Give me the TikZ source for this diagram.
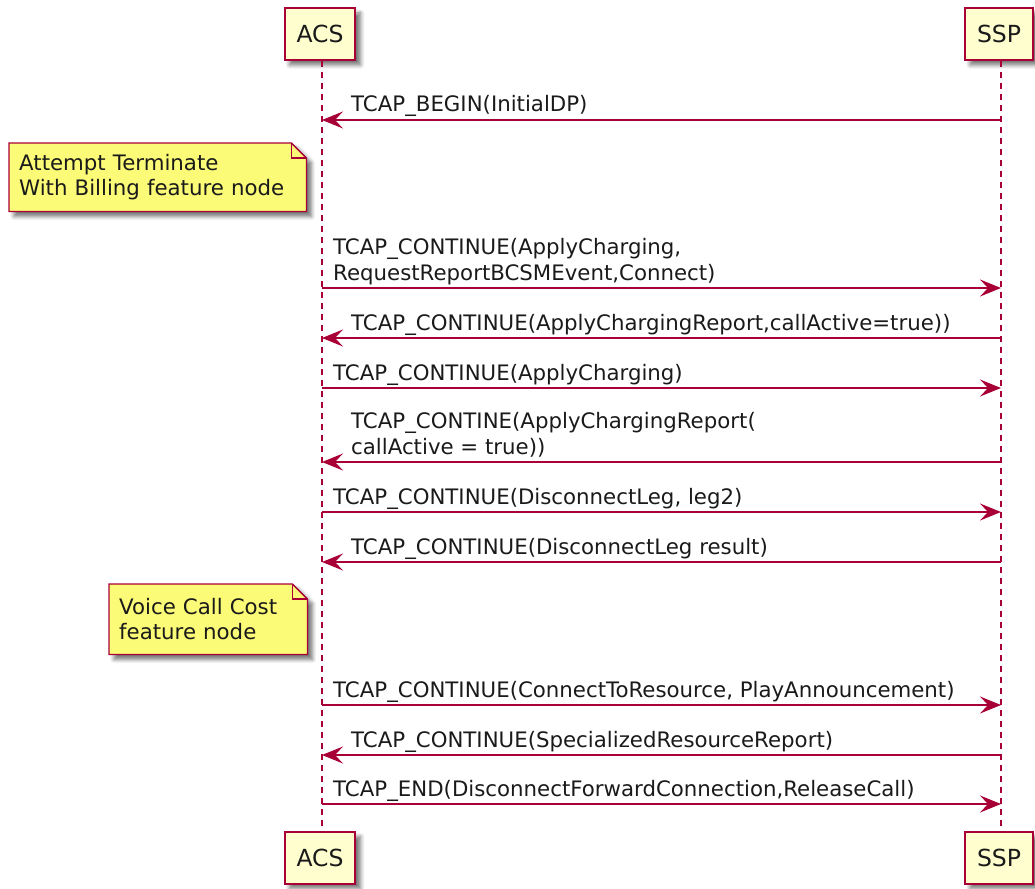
\documentclass[tikz,border=0pt]{standalone}
\usepackage{fontspec}
\setmainfont{DejaVu Sans}
\usepackage{xcolor}
\definecolor{umlRed}{HTML}{A80036}
\definecolor{actorFill}{HTML}{FEFECE}
\definecolor{noteFill}{HTML}{FBFB77}
\definecolor{darkText}{HTML}{1A1A1A}
\usepackage{tikz}
\usetikzlibrary{
    arrows.meta,
    shadows.blur,
    positioning,
    backgrounds
}
\tikzset{
    % Participant boxes - pale yellow with crimson border
    participant/.style={
        rectangle,
        draw=umlRed,
        fill=actorFill,
        line width=2pt,
        font=\fontsize{23.5}{27}\selectfont,
        text=darkText,
        minimum height=52pt,
        inner xsep=12pt,
        blur shadow={
            shadow xshift=5pt,
            shadow yshift=-5pt,
            shadow blur radius=4pt,
            shadow blur steps=6,
            shadow opacity=55
        },
    },
    % Dashed lifeline
    lifeline/.style={
        draw=umlRed,
        line width=1.5pt,
        dash pattern=on 6pt off 5pt,
    },
    % Message arrow
    message/.style={
        -{Stealth[length=21pt, width=17pt, inset=8pt]},
        draw=umlRed,
        line width=1.3pt,
    },
    % Message label
    message text/.style={
        text=darkText,
        align=left,
        inner sep=0pt,
    },
    % Note text and its folded outline
    note text/.style={
        text=darkText,
        align=left,
        inner xsep=10pt,
        anchor=north west,
    },
    note shape/.style={
        draw=umlRed,
        fill=noteFill,
        line width=1.3pt,
        blur shadow={
            shadow xshift=5pt,
            shadow yshift=-5pt,
            shadow blur radius=4pt,
            shadow blur steps=6,
            shadow opacity=55
        },
    },
    note fold/.style={
        draw=umlRed,
        line width=1.3pt,
    },
}
\begin{document}
\begin{tikzpicture}[x=1pt, y=-1pt, font=\fontsize{21.3}{25.5}\selectfont]
    \useasboundingbox (0,0) rectangle (1035,888);

    \node (acsTop) [participant] at (320,34) {ACS};
    \node (sspTop) [participant] at (999,34) {SSP};
    \node (acsBot) [participant] at (320,857.5) {ACS};
    \node (sspBot) [participant] at (999,857.5) {SSP};

    \coordinate (acsLineTop) at ([xshift=2pt]acsTop.south);
    \coordinate (acsLineBot) at ([xshift=2pt]acsBot.north);
    \coordinate (sspLineTop) at ([xshift=2pt]sspTop.south);
    \coordinate (sspLineBot) at ([xshift=2pt]sspBot.north);

    \draw [lifeline] (acsLineTop) -- (acsLineBot);
    \draw [lifeline] (sspLineTop) -- (sspLineBot);

    \coordinate (acsBegin) at (acsLineTop |- 0,120);
    \coordinate (sspBegin) at (sspLineTop |- 0,120);
    \coordinate (acsCharge) at (acsLineTop |- 0,288);
    \coordinate (sspCharge) at (sspLineTop |- 0,288);
    \coordinate (acsReport) at (acsLineTop |- 0,338);
    \coordinate (sspReport) at (sspLineTop |- 0,338);
    \coordinate (acsChargeB) at (acsLineTop |- 0,388);
    \coordinate (sspChargeB) at (sspLineTop |- 0,388);
    \coordinate (acsReportB) at (acsLineTop |- 0,462);
    \coordinate (sspReportB) at (sspLineTop |- 0,462);
    \coordinate (acsLeg) at (acsLineTop |- 0,512);
    \coordinate (sspLeg) at (sspLineTop |- 0,512);
    \coordinate (acsLegResult) at (acsLineTop |- 0,562);
    \coordinate (sspLegResult) at (sspLineTop |- 0,562);
    \coordinate (acsResource) at (acsLineTop |- 0,705);
    \coordinate (sspResource) at (sspLineTop |- 0,705);
    \coordinate (acsSpecial) at (acsLineTop |- 0,755);
    \coordinate (sspSpecial) at (sspLineTop |- 0,755);
    \coordinate (acsEnd) at (acsLineTop |- 0,804);
    \coordinate (sspEnd) at (sspLineTop |- 0,804);

    \draw [message] (sspBegin) -- (acsBegin);
    \draw [message] (acsCharge) -- (sspCharge);
    \draw [message] (sspReport) -- (acsReport);
    \draw [message] (acsChargeB) -- (sspChargeB);
    \draw [message] (sspReportB) -- (acsReportB);
    \draw [message] (acsLeg) -- (sspLeg);
    \draw [message] (sspLegResult) -- (acsLegResult);
    \draw [message] (acsResource) -- (sspResource);
    \draw [message] (sspSpecial) -- (acsSpecial);
    \draw [message] (acsEnd) -- (sspEnd);

    \node (lblBegin) [message text, above right=8pt and 29pt of acsBegin, anchor=base west] {TCAP\_BEGIN(InitialDP)};
    \node (lblCharge) [message text, above right=8pt and 11pt of acsCharge, anchor=base west] {TCAP\_CONTINUE(ApplyCharging,\\RequestReportBCSMEvent,Connect)};
    \node (lblReport) [message text, above right=8pt and 29pt of acsReport, anchor=base west] {TCAP\_CONTINUE(ApplyChargingReport,callActive=true))};
    \node (lblChargeB) [message text, above right=8pt and 11pt of acsChargeB, anchor=base west] {TCAP\_CONTINUE(ApplyCharging)};
    \node (lblReportB) [message text, above right=8pt and 29pt of acsReportB, anchor=base west] {TCAP\_CONTINE(ApplyChargingReport(\\callActive = true))};
    \node (lblLeg) [message text, above right=8pt and 11pt of acsLeg, anchor=base west] {TCAP\_CONTINUE(DisconnectLeg, leg2)};
    \node (lblLegResult) [message text, above right=8pt and 29pt of acsLegResult, anchor=base west] {TCAP\_CONTINUE(DisconnectLeg result)};
    \node (lblResource) [message text, above right=8pt and 11pt of acsResource, anchor=base west] {TCAP\_CONTINUE(ConnectToResource, PlayAnnouncement)};
    \node (lblSpecial) [message text, above right=8pt and 29pt of acsSpecial, anchor=base west] {TCAP\_CONTINUE(SpecializedResourceReport)};
    \node (lblEnd) [message text, above right=8pt and 11pt of acsEnd, anchor=base west] {TCAP\_END(DisconnectForwardConnection,ReleaseCall)};

    % notes left of ACS
    \node (noteBilling) [note text, text width=277pt, minimum height=68pt] at (9,143) {Attempt Terminate\\With Billing feature node};
    \node (noteCost) [note text, text width=178pt, minimum height=70pt] at (109,584) {Voice Call Cost\\feature node};

    \begin{scope}[on background layer]
        \draw [note shape] (noteBilling.north west) -- ([xshift=-15pt]noteBilling.north east) -- ([yshift=-15pt]noteBilling.north east) -- (noteBilling.south east) -- (noteBilling.south west) -- cycle;
        \draw [note fold] ([xshift=-15pt]noteBilling.north east) |- ([yshift=-15pt]noteBilling.north east);
        \draw [note shape] (noteCost.north west) -- ([xshift=-15pt]noteCost.north east) -- ([yshift=-15pt]noteCost.north east) -- (noteCost.south east) -- (noteCost.south west) -- cycle;
        \draw [note fold] ([xshift=-15pt]noteCost.north east) |- ([yshift=-15pt]noteCost.north east);
    \end{scope}
\end{tikzpicture}
\end{document}
